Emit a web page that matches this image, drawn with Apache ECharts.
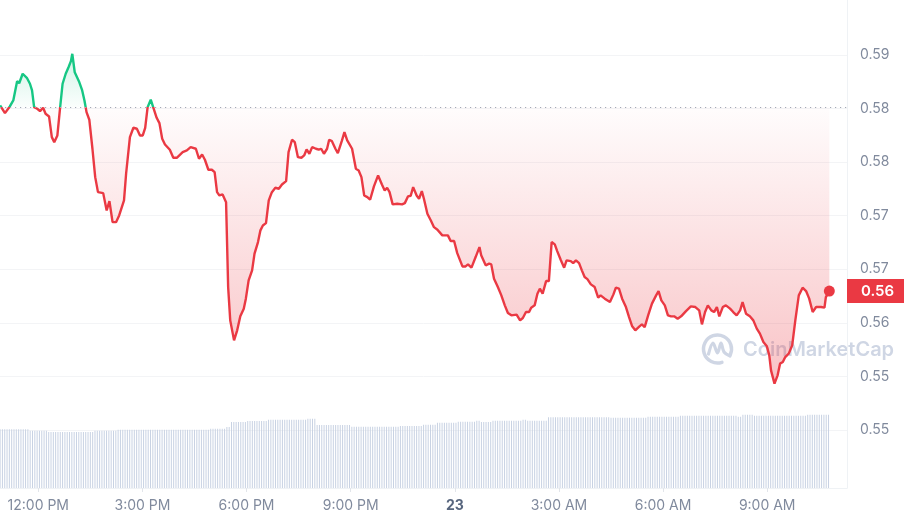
<!DOCTYPE html>
<html><head><meta charset="utf-8">
<script src="https://cdn.jsdelivr.net/npm/echarts@6/dist/echarts.min.js"></script>
<style>html,body{margin:0;padding:0;background:#fff}#c{width:904px;height:522px}</style>
</head><body><div id="c"></div>
<script>
// ---- data (hours relative to 12:00 PM of the first day) ----
const priceHours = [
-1.10,-0.96,-0.82,-0.72,-0.61,-0.55,-0.45,-0.33,-0.24,-0.18,-0.12,-0.03,0.05,0.14,0.21,0.31,0.39,0.46,0.55,0.63,
0.70,0.79,0.88,0.94,0.98,1.05,1.17,1.26,1.33,1.39,1.47,1.56,1.64,1.72,1.87,1.97,2.05,2.14,2.24,2.33,
2.47,2.53,2.64,2.74,2.84,2.93,3.01,3.08,3.15,3.24,3.31,3.41,3.49,3.57,3.65,3.79,3.89,3.99,4.16,4.28,
4.39,4.54,4.63,4.72,4.80,4.90,
5.00,5.08,5.15,5.22,5.31,5.41,5.47,5.53,5.64,5.73,5.82,5.92,5.98,6.06,6.16,6.23,6.33,6.40,6.47,6.56,
6.64,6.73,6.83,6.93,7.02,7.14,7.21,7.31,7.39,7.48,7.58,7.66,7.73,7.81,7.89,8.00,8.08,8.15,8.23,8.32,
8.38,8.46,8.56,8.63,8.75,8.82,8.90,9.04,9.15,9.23,9.31,9.39,9.48,9.56,9.67,9.79,9.90,9.98,10.05,10.12,
10.21,10.34,10.48,10.56,10.65,10.73,10.80,10.90,10.97,11.05,11.11,
11.21,11.31,11.40,11.50,11.64,11.80,11.88,11.98,12.07,12.22,12.31,12.38,12.48,12.60,12.71,12.76,12.89,12.99,13.05,13.13,
13.24,13.34,13.44,13.53,13.63,13.78,13.88,13.96,14.05,14.14,14.20,14.30,14.38,14.45,14.53,14.63,14.71,14.79,14.88,14.95,
15.05,15.15,15.22,15.34,15.41,15.49,15.58,15.66,15.74,15.82,15.92,16.03,16.13,16.20,16.32,16.47,16.57,16.64,16.73,16.82,
16.93,17.02,17.11,17.20,
17.32,17.39,17.47,17.57,17.68,17.80,17.87,17.95,18.05,18.14,18.23,18.32,18.42,18.52,18.66,18.80,18.93,19.04,19.12,19.21,
19.29,19.39,19.47,19.55,19.62,19.72,19.81,19.93,20.02,20.12,20.22,20.29,20.39,20.50,20.60,20.70,20.79,20.89,20.99,21.06,
21.11,21.21,21.30,21.37,21.45,21.52,21.62,21.72,21.81,21.91,22.02,22.12,22.21,22.31,22.41,22.55,22.65,22.69,22.79
];
const priceValues = [
0.58435,0.58349,0.58424,0.58491,0.58707,0.58684,0.58790,0.58745,0.58678,0.58603,0.58416,0.58398,0.58371,0.58409,0.58342,0.58312,0.58080,0.58024,0.58099,0.58416,
0.58678,0.58790,0.58871,0.58931,0.59013,0.58807,0.58707,0.58610,0.58491,0.58360,0.58275,0.57950,0.57632,0.57464,0.57453,0.57259,0.57363,0.57128,0.57128,0.57203,
0.57371,0.57670,0.58080,0.58185,0.58174,0.58099,0.58099,0.58185,0.58416,0.58499,0.58416,0.58297,0.58237,0.58062,0.57998,0.57939,0.57849,0.57849,0.57912,0.57931,
0.57968,0.57950,0.57838,0.57886,0.57827,0.57715,
0.57715,0.57688,0.57464,0.57427,0.57438,0.57352,0.56401,0.56028,0.55804,0.55916,0.56073,0.56159,0.56271,0.56476,0.56588,0.56775,0.56905,0.57036,0.57091,0.57117,
0.57371,0.57464,0.57513,0.57502,0.57550,0.57587,0.57912,0.58051,0.58024,0.57856,0.57849,0.57875,0.57942,0.57894,0.57968,0.57950,0.57939,0.57950,0.57894,0.57950,
0.58051,0.58035,0.57950,0.57901,0.58043,0.58136,0.58043,0.57950,0.57726,0.57707,0.57632,0.57427,0.57408,0.57379,0.57528,0.57651,0.57550,0.57483,0.57513,0.57464,
0.57327,0.57334,0.57327,0.57341,0.57416,0.57424,0.57520,0.57427,0.57390,0.57475,0.57390,
0.57222,0.57147,0.57072,0.57043,0.56980,0.56980,0.56916,0.56916,0.56781,0.56632,0.56632,0.56655,0.56618,0.56737,0.56849,0.56756,0.56644,0.56663,0.56655,0.56495,
0.56401,0.56308,0.56196,0.56110,0.56084,0.56092,0.56028,0.56054,0.56121,0.56121,0.56170,0.56196,0.56327,0.56383,0.56327,0.56468,0.56468,0.56905,0.56879,0.56804,
0.56707,0.56618,0.56700,0.56692,0.56669,0.56700,0.56669,0.56588,0.56513,0.56490,0.56431,0.56401,0.56282,0.56308,0.56271,0.56233,0.56319,0.56394,0.56383,0.56271,
0.56177,0.56065,0.55961,0.55916,
0.55961,0.55983,0.55953,0.56084,0.56215,0.56308,0.56356,0.56252,0.56196,0.56084,0.56073,0.56073,0.56047,0.56073,0.56132,0.56185,0.56177,0.56140,0.55983,0.56121,
0.56196,0.56140,0.56121,0.56177,0.56073,0.56177,0.56196,0.56159,0.56121,0.56084,0.56140,0.56233,0.56103,0.56073,0.56028,0.55935,0.55879,0.55785,0.55737,0.55636,
0.55468,0.55319,0.55412,0.55543,0.55561,0.55617,0.55655,0.55748,0.56028,0.56308,0.56394,0.56356,0.56271,0.56121,0.56177,0.56177,0.56170,0.56289,0.56356
];
const openPrice = 0.58418;

const volumeStartHour = -1.10;
const volumeStepMinutes = 4;
const volumeValues = [
5.87,5.87,5.87,5.87,5.87,5.87,5.87,5.87,5.87,5.87,5.87,5.87,5.87,
5.73,5.73,5.73,5.73,5.73,5.73,5.73,5.73,
5.60,5.60,5.60,5.60,5.60,5.60,5.60,5.60,5.60,5.60,5.60,5.60,5.60,5.60,5.60,5.60,5.60,5.60,5.60,5.60,
5.73,5.73,5.73,5.73,5.73,5.73,5.73,5.73,5.73,5.73,
5.83,5.83,5.83,5.83,5.83,5.83,5.83,5.83,5.83,5.83,5.83,5.83,5.83,5.83,5.83,5.83,5.83,5.83,5.83,5.83,
5.83,5.83,5.83,5.83,5.83,5.83,5.83,5.83,5.83,5.83,5.83,5.83,5.83,5.83,5.83,5.83,5.83,5.83,5.83,5.83,
5.93,5.93,5.93,5.93,5.93,5.93,5.93,
6.10,6.10,
6.60,6.60,6.60,6.60,6.60,6.60,6.60,
6.70,6.70,6.70,6.70,6.70,6.70,6.70,6.70,6.70,
6.83,6.83,6.83,6.83,6.83,6.83,6.83,6.83,6.83,6.83,6.83,6.83,6.83,6.83,6.83,6.83,6.83,
6.93,6.93,6.93,6.93,
6.30,6.30,6.30,6.30,6.30,6.30,6.30,6.30,6.30,6.30,6.30,6.30,6.30,6.30,6.30,
6.13,6.13,6.13,6.13,6.13,6.13,6.13,6.13,6.13,6.13,6.13,6.13,6.13,6.13,6.13,6.13,6.13,6.13,6.13,6.13,6.13,
6.20,6.20,6.20,6.20,6.20,6.20,6.20,6.20,6.20,6.20,
6.33,6.33,6.33,6.33,6.33,6.33,
6.53,6.53,6.53,6.53,6.53,6.53,6.53,6.53,6.53,
6.63,6.63,6.63,6.63,6.63,6.63,6.63,6.63,
6.73,6.73,
6.60,6.60,6.60,6.60,6.60,
6.73,6.73,6.73,6.73,6.73,6.73,6.73,6.73,6.73,6.73,6.73,6.73,6.73,
6.83,6.83,
6.73,6.73,6.73,6.73,6.73,6.73,6.73,6.73,6.73,
7.07,7.07,7.07,7.07,7.07,7.07,7.07,7.07,7.07,7.07,7.07,7.07,7.07,7.07,7.07,7.07,7.07,7.07,7.07,7.07,7.07,7.07,7.07,7.07,7.07,7.07,7.07,
7.03,7.03,7.03,7.03,7.03,7.03,7.03,7.03,7.03,7.03,7.03,7.03,7.03,7.03,7.03,7.03,
7.13,7.13,7.13,7.13,7.13,7.13,7.13,7.13,7.13,7.13,7.13,7.13,7.13,7.13,
7.23,7.23,7.23,7.23,7.23,7.23,7.23,7.23,7.23,7.23,7.23,7.23,7.23,7.23,7.23,7.23,7.23,7.23,7.23,7.23,7.23,7.23,7.23,7.23,7.23,
7.13,7.13,
7.33,7.33,7.33,7.33,7.33,
7.23,7.23,7.23,7.23,7.23,7.23,7.23,7.23,7.23,7.23,7.23,7.23,7.23,7.23,7.23,7.23,7.23,7.23,7.23,7.23,7.23,7.23,7.23,
7.33,7.33,7.33,7.33,7.33,7.33,7.33,7.33,7.33,7.33
];

const xTickHours = [0, 3, 6, 9, 12, 15, 18, 21];
const xTickLabels = ['12:00 PM', '3:00 PM', '6:00 PM', '9:00 PM', '23', '3:00 AM', '6:00 AM', '9:00 AM'];
const xMinHour = -1.103, xMaxHour = 23.299;
const yMin = 0.548, yMax = 0.590, yInterval = 0.006;
const volumeAxisMax = 48.8;

// ---- chart ----
const RED = '#ea3943', GREEN = '#16c784', LABEL = '#808a9d', WM = '#cfd6e4';
const priceData = priceHours.map((h, i) => [h, priceValues[i]]);
const volData = volumeValues.map((v, i) => [volumeStartHour + i * volumeStepMinutes / 60, v]);
const last = priceData[priceData.length - 1];
const maxP = Math.max(...priceValues), minP = Math.min(...priceValues);
const frac = (maxP - openPrice) / (maxP - minP);

const chart = echarts.init(document.getElementById('c'), null, {renderer: 'canvas'});
chart.setOption({
  animation: false,
  backgroundColor: '#ffffff',
  textStyle: {fontFamily: 'Inter'},
  grid: [
    {left: 0, right: 57, top: 55, bottom: 92},
    {left: 0, right: 57, top: 0, bottom: 34}
  ],
  xAxis: [
    {gridIndex: 0, type: 'value', min: xMinHour, max: xMaxHour, show: false},
    {gridIndex: 1, type: 'value', min: xMinHour, max: xMaxHour,
      axisLine: {show: true, onZero: false, lineStyle: {color: '#eff2f5'}},
      axisTick: {show: true, length: 4, customValues: xTickHours, lineStyle: {color: '#e2e5ea'}},
      splitLine: {show: false},
      axisLabel: {
        customValues: xTickHours, color: LABEL, fontSize: 14, margin: 11, fontFamily: 'Inter',
        formatter: v => {
          const i = xTickHours.indexOf(v);
          const t = i >= 0 ? xTickLabels[i] : '';
          return /^\d+$/.test(t) ? '{b|' + t + '}' : t;
        },
        rich: {b: {fontWeight: 700, color: '#58667e', fontSize: 14, fontFamily: 'Inter'}}
      }
    }
  ],
  yAxis: [
    {gridIndex: 0, type: 'value', position: 'right', min: yMin, max: yMax, interval: yInterval,
      axisLine: {show: false, onZero: false}, axisTick: {show: false},
      axisLabel: {color: LABEL, fontSize: 14, margin: 13, fontFamily: 'Inter', formatter: v => v.toFixed(2)},
      splitLine: {lineStyle: {color: '#f3f4f6', width: 1}}
    },
    {gridIndex: 1, type: 'value', position: 'right', min: 0, max: volumeAxisMax,
      axisLine: {show: true, onZero: false, lineStyle: {color: '#eff2f5'}}, axisTick: {show: false},
      axisLabel: {show: false}, splitLine: {show: false}
    }
  ],
  visualMap: [{
    type: 'piecewise', show: false, seriesIndex: 1, dimension: 1,
    pieces: [{gt: 0, lte: openPrice, color: RED}, {gt: openPrice, lte: 1, color: GREEN}]
  }],
  graphic: [
    {type: 'arc', z: 0, shape: {cx: 717.5, cy: 349, r: 14, startAngle: 1.25, endAngle: 0.4 + Math.PI * 2, clockwise: true},
      style: {stroke: WM, lineWidth: 3.5, fill: null, lineCap: 'round'}},
    {type: 'polyline', z: 0, shape: {points: [[708.5, 354], [713, 343], [717.5, 353], [721, 343], [724, 352], [730, 356]], smooth: 0.35},
      style: {stroke: WM, lineWidth: 3.2, fill: null, lineCap: 'round', lineJoin: 'round'}},
    {type: 'text', z: 0, x: 743, y: 350,
      style: {text: 'CoinMarketCap', fill: WM, font: '600 20px Inter', align: 'left', verticalAlign: 'middle'}}
  ],
  series: [
    {type: 'bar', xAxisIndex: 1, yAxisIndex: 1, data: volData, barWidth: 1, silent: true, z: 1,
      itemStyle: {color: '#c8d2e3'}},
    {type: 'line', xAxisIndex: 0, yAxisIndex: 0, data: priceData, showSymbol: false, symbol: 'none',
      clip: false, z: 3, lineStyle: {width: 2.4}, silent: true,
      areaStyle: {origin: openPrice, opacity: 1, color: {
        type: 'linear', x: 0, y: 0, x2: 0, y2: 1,
        colorStops: [
          {offset: 0, color: 'rgba(22,199,132,0.20)'},
          {offset: Math.max(0, frac - 0.001), color: 'rgba(22,199,132,0.02)'},
          {offset: frac, color: 'rgba(234,57,67,0.01)'},
          {offset: 1, color: 'rgba(234,57,67,0.30)'}
        ]}},
      markLine: {
        symbol: 'none', silent: true, animation: false, precision: 6,
        data: [
          {yAxis: openPrice, lineStyle: {color: '#a3a9b5', type: [1.2, 3.8], width: 1.2}, label: {show: false}},
          {yAxis: last[1], lineStyle: {color: 'rgba(0,0,0,0)', width: 0}, label: {
            show: true, position: 'end', distance: 0, formatter: p => Number(p.value).toFixed(2),
            backgroundColor: RED, color: '#fff', fontSize: 15, fontWeight: 600, fontFamily: 'Inter',
            padding: [5, 15, 4, 14], lineHeight: 15
          }}
        ]
      }
    },
    {type: 'scatter', xAxisIndex: 0, yAxisIndex: 0, data: [last], symbolSize: 11, z: 5, silent: true,
      itemStyle: {color: RED, opacity: 1}}
  ]
});
</script>
</body></html>
